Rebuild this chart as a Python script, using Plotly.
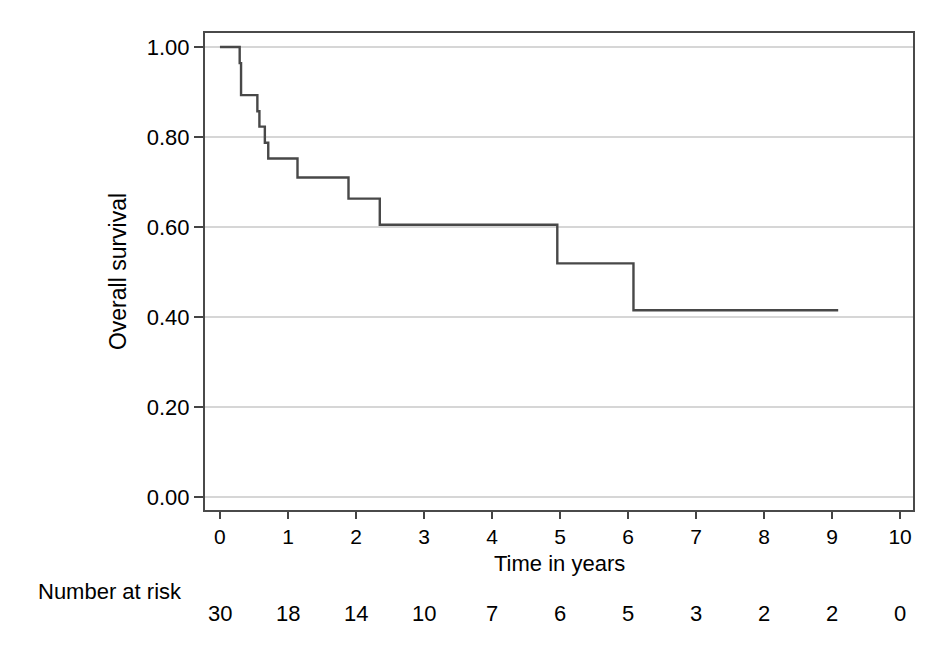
import plotly.graph_objects as go

# Kaplan-Meier step points (time in years, survival probability)
times = [0.0, 0.29, 0.31, 0.55, 0.58, 0.66, 0.71, 1.14, 1.89, 2.35, 4.96, 6.08, 9.09]
survival = [1.0, 0.964, 0.893, 0.857, 0.823, 0.787, 0.752, 0.710, 0.663, 0.605, 0.519, 0.415, 0.415]

risk_times = [0, 1, 2, 3, 4, 5, 6, 7, 8, 9, 10]
number_at_risk = [30, 18, 14, 10, 7, 6, 5, 3, 2, 2, 0]

y_ticks = [0.0, 0.2, 0.4, 0.6, 0.8, 1.0]
y_tick_labels = ["0.00", "0.20", "0.40", "0.60", "0.80", "1.00"]

font_family = "Liberation Sans, Arial, sans-serif"
txt = "#000000"

fig = go.Figure()
fig.add_trace(go.Scatter(
    x=times, y=survival, mode="lines",
    line=dict(shape="hv", color="#484848", width=2.4),
    hoverinfo="skip", showlegend=False,
))

for t, n in zip(risk_times, number_at_risk):
    fig.add_annotation(x=t, y=-0.218, xref="x", yref="paper", text=str(n),
                       showarrow=False,
                       font=dict(size=22, color=txt, family=font_family),
                       xanchor="center", yanchor="middle")

fig.add_annotation(x=-0.030, y=-0.170, xref="paper", yref="paper", text="Number at risk",
                   showarrow=False,
                   font=dict(size=22, color=txt, family=font_family),
                   xanchor="right", yanchor="middle")

# x-axis title placed tight under the tick labels, as in the reference
fig.add_annotation(x=0.5, y=-0.113, xref="paper", yref="paper", text="Time in years",
                   showarrow=False,
                   font=dict(size=22, color=txt, family=font_family),
                   xanchor="center", yanchor="middle")

fig.update_layout(
    width=945, height=665,
    margin=dict(l=197, r=40, t=25, b=163),
    paper_bgcolor="white", plot_bgcolor="white",
    font=dict(family=font_family, size=22, color=txt),
    xaxis=dict(
        range=[-0.22, 10.19], tickmode="array", tickvals=risk_times,
        ticks="outside", ticklen=7, tickwidth=2, tickcolor="#444",
        showgrid=False, zeroline=False,
        showline=True, linecolor="#4a4a4a", linewidth=2, mirror=True,
        tickfont=dict(size=21),
    ),
    yaxis=dict(
        range=[-0.029, 1.031], tickmode="array", tickvals=y_ticks, ticktext=y_tick_labels,
        ticks="outside", ticklen=9, tickwidth=2, tickcolor="#444",
        showgrid=True, gridcolor="#d6d6d6", gridwidth=1.5, zeroline=False,
        showline=True, linecolor="#4a4a4a", linewidth=2, mirror=True,
        title=dict(text="Overall survival", standoff=14, font=dict(size=23)),
        tickfont=dict(size=22),
    ),
)

fig.write_html("out.html")
